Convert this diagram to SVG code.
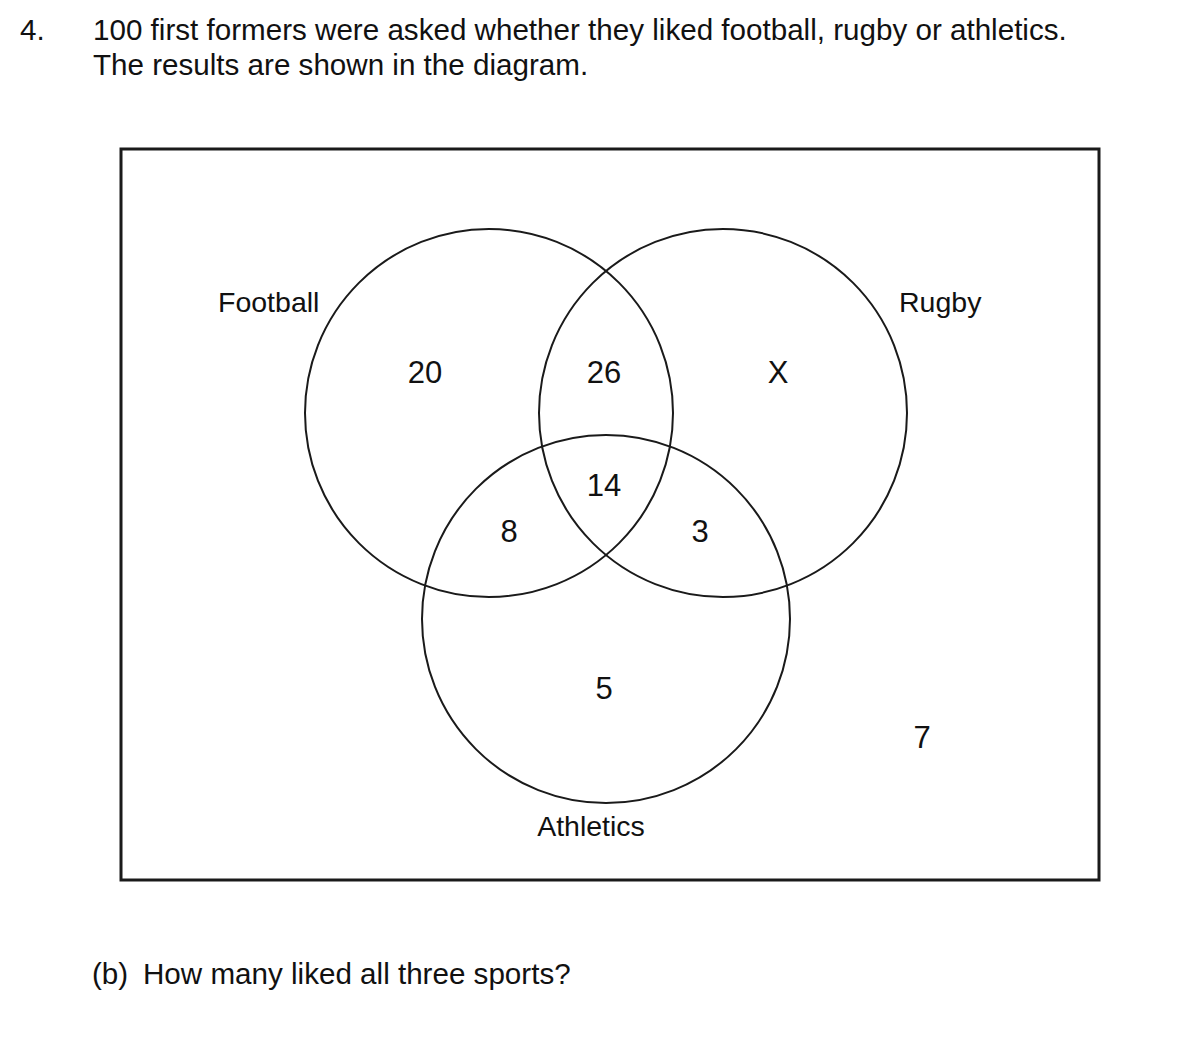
<svg xmlns="http://www.w3.org/2000/svg" width="1182" height="1056" viewBox="0 0 1182 1056">
<style>
text{font-family:"Liberation Sans",Arial,sans-serif;fill:#111}
.q{font-size:29.6px}
.lbl{font-size:28.5px}
.num{font-size:31px;text-anchor:middle}
.c{fill:none;stroke:#1a1a1a;stroke-width:2}
</style>
<rect width="1182" height="1056" fill="#fff"/>
<text class="q" x="20" y="40">4.</text>
<text class="q" x="93" y="40">100 first formers were asked whether they liked football, rugby or athletics.</text>
<text class="q" x="93" y="75">The results are shown in the diagram.</text>
<rect x="121" y="149" width="978" height="731" fill="none" stroke="#1a1a1a" stroke-width="3"/>
<g id="football"><circle class="c" cx="489" cy="413" r="184"/><text class="lbl" x="218" y="312">Football</text></g>
<g id="rugby"><circle class="c" cx="723" cy="413" r="184"/><text class="lbl" x="899" y="312">Rugby</text></g>
<g id="athletics"><circle class="c" cx="606" cy="619" r="184"/><text class="lbl" x="591" y="836" text-anchor="middle">Athletics</text></g>
<g id="connectors"></g>
<g id="values">
<text class="num" x="425" y="383">20</text>
<text class="num" x="604" y="383">26</text>
<text class="num" x="778" y="383">X</text>
<text class="num" x="604" y="496">14</text>
<text class="num" x="509" y="542">8</text>
<text class="num" x="700" y="542">3</text>
<text class="num" x="604" y="699">5</text>
<text class="num" x="922" y="748">7</text>
</g>
<text class="q" x="92" y="984">(b)</text>
<text class="q" x="143" y="984">How many liked all three sports?</text>
</svg>
